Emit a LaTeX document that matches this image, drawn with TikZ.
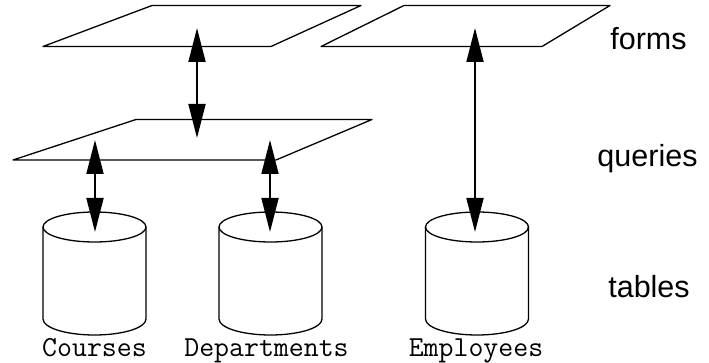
\documentclass[tikz,border=0pt]{standalone}
\usepackage{fontspec}
\setmainfont{Liberation Sans}
\usetikzlibrary{arrows.meta}

% a database drum: name, centre x, x of its link point
\newcommand\drumat[3]{%
  \draw[drum] (#2,227) ellipse [x radius=51.5pt,y radius=15pt];
  \draw[drum] (#2-51.5,227) -- (#2-51.5,319)
    arc[start angle=180,end angle=360,x radius=51.5pt,y radius=16pt]
    -- (#2+51.5,227);
  \coordinate (#1) at (#3,232);
}

\begin{document}
\begin{tikzpicture}[x=1pt,y=-1pt,
  plane/.style={draw,line width=1.3pt,line join=round},
  drum/.style={draw,line width=1.3pt},
  link/.style={line width=1.8pt,
    {Triangle[length=34pt,width=17pt]}-{Triangle[length=34pt,width=17pt]}},
  layer/.style={font=\fontsize{30.5}{36}\selectfont,anchor=base},
  tname/.style={font=\ttfamily\fontsize{29}{34}\selectfont,anchor=base}]
\useasboundingbox (0,0) rectangle (709,363);

% forms
\draw[plane] (43,46.5) -- (152,5.5) -- (361,5.5) -- (271,46.5) -- cycle;
\draw[plane] (321,46.5) -- (404,5.5) -- (610,5.5) -- (542,46.5) -- cycle;
% queries
\draw[plane] (13,160) -- (136,119.5) -- (372,119.5) -- (276,160) -- cycle;

% tables
\drumat{courses}{94.5}{95}
\drumat{depts}{270.5}{270}
\drumat{emps}{477}{475}

% anchor points on the planes
\coordinate (formA) at (197,28);
\coordinate (qryA)  at (197,138);
\coordinate (qryB)  at (95,140);
\coordinate (qryC)  at (270,140);
\coordinate (formB) at (475,28);

% connections
\draw[link] (formA) -- (qryA);
\draw[link] (qryB) -- (courses);
\draw[link] (qryC) -- (depts);
\draw[link] (formB) -- (emps);

% table names
\node[tname] (lcourses) at (94.5,356) {Courses};
\node[tname] (ldepts) at (266.5,356) {Departments};
\node[tname] (lemps) at (476,356) {Employees};

% layer names
\node[layer] (lforms) at (648.5,50) {forms};
\node[layer] (lqueries) at (647.5,167) {queries};
\node[layer] (ltables) at (649,298) {tables};
\end{tikzpicture}
\end{document}
